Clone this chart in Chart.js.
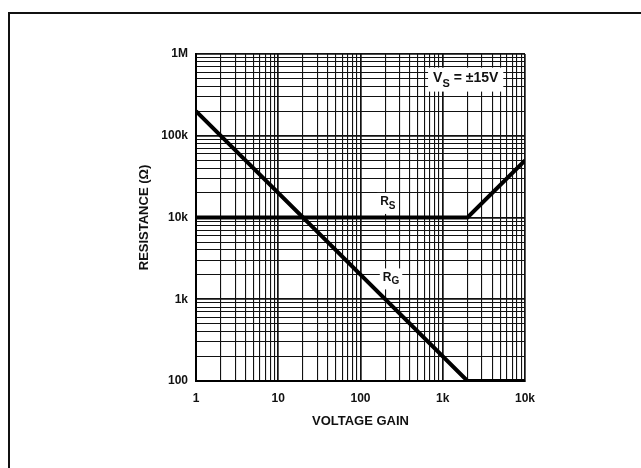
<!DOCTYPE html>
<html>
<head>
<meta charset="utf-8">
<script src="https://cdn.jsdelivr.net/npm/chart.js@4/dist/chart.umd.min.js"></script>
<style>
  html, body { margin: 0; padding: 0; background: #fff; }
  #wrap { position: relative; width: 641px; height: 468px; }
  #frame { position: absolute; left: 8px; top: 12px; right: -4px; bottom: -4px;
           border-left: 2px solid #111; border-top: 2px solid #111; }
  canvas { position: absolute; left: 0; top: 0; }
</style>
</head>
<body>
<div id="wrap">
  <div id="frame"></div>
  <canvas id="chart" width="641" height="468"></canvas>
</div>
<script>
// R_G and R_S versus voltage gain
const gainRG = [1, 2000, 10000];
const resRG = [200000, 100, 100];
const gainRS = [1, 2000, 10000];
const resRS = [10000, 10000, 50000];

const xTicks = [1, 2, 3, 4, 5, 6, 7, 8, 9, 10, 20, 30, 40, 50, 60, 70, 80, 90,
    100, 200, 300, 400, 500, 600, 700, 800, 900, 1000, 2000, 3000, 4000, 5000,
    6000, 7000, 8000, 9000, 10000];
const yTicks = [100, 200, 300, 400, 500, 600, 700, 800, 900, 1000, 2000, 3000,
    4000, 5000, 6000, 7000, 8000, 9000, 10000, 20000, 30000, 40000, 50000,
    60000, 70000, 80000, 90000, 100000, 200000, 300000, 400000, 500000, 600000,
    700000, 800000, 900000, 1000000];
const xLabels = { 1: '1', 10: '10', 100: '100', 1000: '1k', 10000: '10k' };
const yLabels = { 100: '100', 1000: '1k', 10000: '10k', 100000: '100k', 1000000: '1M' };

function toPoints(xs, ys) {
    return xs.map((x, i) => ({ x: x, y: ys[i] }));
}

function isDecade(v) {
    const l = Math.log10(v);
    return Math.abs(l - Math.round(l)) < 1e-9;
}

const FONT = '"Liberation Sans", Arial, sans-serif';

// draws a label with a subscript, on a white patch
function subLabel(ctx, x, y, main, sub, rest, size, box) {
    ctx.save();
    ctx.textBaseline = 'middle';
    ctx.font = 'bold ' + size + 'px ' + FONT;
    const w1 = ctx.measureText(main).width;
    ctx.font = 'bold ' + Math.round(size * 0.8) + 'px ' + FONT;
    const w2 = ctx.measureText(sub).width;
    ctx.font = 'bold ' + size + 'px ' + FONT;
    const w3 = ctx.measureText(rest).width;
    const total = w1 + w2 + w3;
    const left = x - total / 2;
    ctx.fillStyle = '#fff';
    ctx.fillRect(left - box[0], y - box[1], total + box[0] * 2, box[1] + box[2]);
    ctx.fillStyle = '#111';
    ctx.fillText(main, left, y);
    ctx.font = 'bold ' + Math.round(size * 0.8) + 'px ' + FONT;
    ctx.fillText(sub, left + w1, y + size * 0.35);
    ctx.font = 'bold ' + size + 'px ' + FONT;
    ctx.fillText(rest, left + w1 + w2, y);
    ctx.restore();
}

const annotations = {
    id: 'annotations',
    afterDatasetsDraw(chart) {
        const ctx = chart.ctx;
        const xs = chart.scales.x;
        const ys = chart.scales.y;
        subLabel(ctx, xs.getPixelForValue(215), ys.getPixelForValue(15500), 'R', 'S', '', 12, [3, 9, 12]);
        subLabel(ctx, xs.getPixelForValue(235), ys.getPixelForValue(1850), 'R', 'G', '', 12, [3, 9, 12]);
        subLabel(ctx, xs.getPixelForValue(1900), ys.getPixelForValue(500000), 'V', 'S', ' = \u00b115V', 14, [5, 11, 13]);
    }
};

const ctx = document.getElementById('chart').getContext('2d');

new Chart(ctx, {
    type: 'line',
    data: {
        datasets: [
            {
                label: 'RG',
                data: toPoints(gainRG, resRG),
                borderColor: '#000',
                borderWidth: 4,
                pointRadius: 0,
                tension: 0,
                borderCapStyle: 'butt',
                borderJoinStyle: 'miter'
            },
            {
                label: 'RS',
                data: toPoints(gainRS, resRS),
                borderColor: '#000',
                borderWidth: 4,
                pointRadius: 0,
                tension: 0,
                borderCapStyle: 'butt',
                borderJoinStyle: 'miter'
            }
        ]
    },
    options: {
        responsive: false,
        animation: false,
        layout: { padding: { left: 130, top: 54, right: 116, bottom: 39 } },
        plugins: {
            legend: { display: false },
            tooltip: { enabled: false }
        },
        scales: {
            x: {
                type: 'logarithmic',
                min: 1,
                max: 10000,
                afterBuildTicks: (scale) => { scale.ticks = xTicks.map(v => ({ value: v })); },
                afterFit: (scale) => { scale.height = 48; },
                ticks: {
                    autoSkip: false,
                    maxRotation: 0,
                    padding: 10,
                    color: '#111',
                    font: { family: FONT, size: 12, weight: 'bold' },
                    callback: (v) => xLabels[v] || ''
                },
                grid: {
                    drawTicks: false,
                    color: '#111',
                    lineWidth: (c) => (c.tick && isDecade(c.tick.value)) ? 1.7 : 1.1
                },
                border: { color: '#000', width: 2 },
                title: {
                    display: true,
                    text: 'VOLTAGE GAIN',
                    color: '#111',
                    padding: { top: 8, bottom: 0 },
                    font: { family: FONT, size: 13, weight: 'bold' }
                }
            },
            y: {
                type: 'logarithmic',
                min: 100,
                max: 1000000,
                afterBuildTicks: (scale) => { scale.ticks = yTicks.map(v => ({ value: v })); },
                afterFit: (scale) => { scale.width = 66; },
                ticks: {
                    autoSkip: false,
                    padding: 8,
                    color: '#111',
                    font: { family: FONT, size: 12, weight: 'bold' },
                    callback: (v) => yLabels[v] || ''
                },
                grid: {
                    drawTicks: false,
                    color: '#111',
                    lineWidth: (c) => (c.tick && isDecade(c.tick.value)) ? 1.7 : 1.1
                },
                border: { color: '#000', width: 2 },
                title: {
                    display: true,
                    text: 'RESISTANCE (\u03a9)',
                    color: '#111',
                    padding: { top: 7, bottom: 0 },
                    font: { family: FONT, size: 13, weight: 'bold' }
                }
            }
        }
    },
    plugins: [annotations]
});
</script>
</body>
</html>
